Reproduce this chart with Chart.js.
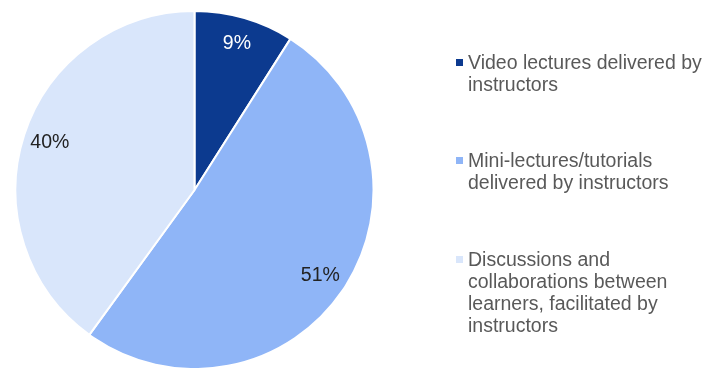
<!DOCTYPE html>
<html>
<head>
<meta charset="utf-8">
<script src="https://cdn.jsdelivr.net/npm/chart.js@4/dist/chart.umd.min.js"></script>
<style>
  html, body { margin: 0; padding: 0; background: #fff; }
  #wrap { width: 702px; height: 368px; position: relative; }
</style>
</head>
<body>
<div id="wrap"><canvas id="grafico"></canvas></div>
<script>
// categorias (já quebradas em linhas para a legenda)
const categorias = [
  ['Video lectures delivered by', 'instructors'],
  ['Mini-lectures/tutorials', 'delivered by instructors'],
  ['Discussions and', 'collaborations between', 'learners, facilitated by', 'instructors']
];
const percentuais = [9, 51, 40];
const cores = ['#0c3a8f', '#8fb5f7', '#d9e6fb'];
const coresRotulo = ['#ffffff', '#222222', '#222222'];

const fonte = '19.5px "Liberation Sans", Arial, sans-serif';

// rótulos de porcentagem dentro das fatias
const rotulosFatias = {
  id: 'rotulosFatias',
  afterDatasetsDraw(chart) {
    const ctx = chart.ctx;
    const meta = chart.getDatasetMeta(0);
    ctx.save();
    ctx.font = fonte;
    ctx.textAlign = 'center';
    ctx.textBaseline = 'middle';
    meta.data.forEach((arco, i) => {
      const { x, y, startAngle, endAngle, outerRadius } =
        arco.getProps(['x', 'y', 'startAngle', 'endAngle', 'outerRadius'], true);
      const meio = (startAngle + endAngle) / 2;
      const r = outerRadius * 0.85;
      ctx.fillStyle = coresRotulo[i];
      ctx.fillText(percentuais[i] + '%', x + Math.cos(meio) * r, y + Math.sin(meio) * r);
    });
    ctx.restore();
  }
};

// legenda à direita, com várias linhas por item
const legendaLateral = {
  id: 'legendaLateral',
  afterDraw(chart) {
    const ctx = chart.ctx;
    const x0 = 456;
    const topos = [69, 167, 266]; // linha de base da primeira linha de cada item
    const alturaLinha = 22;
    ctx.save();
    ctx.font = fonte;
    ctx.textAlign = 'left';
    ctx.textBaseline = 'alphabetic';
    categorias.forEach((linhas, i) => {
      const base = topos[i];
      ctx.fillStyle = cores[i];
      ctx.fillRect(x0, base - 10, 7, 7);
      ctx.fillStyle = '#595959';
      linhas.forEach((txt, j) => {
        ctx.fillText(txt, x0 + 12, base + j * alturaLinha);
      });
    });
    ctx.restore();
  }
};

const ctx = document.getElementById('grafico').getContext('2d');
new Chart(ctx, {
  type: 'pie',
  data: {
    labels: categorias.map(l => l.join(' ')),
    datasets: [{
      data: percentuais,
      backgroundColor: cores,
      borderColor: '#ffffff',
      borderWidth: 2
    }]
  },
  options: {
    responsive: true,
    maintainAspectRatio: false,
    animation: false,
    radius: 179,
    layout: { padding: { left: 16, right: 329, top: 12, bottom: 0 } },
    plugins: {
      legend: { display: false },
      tooltip: { enabled: false }
    }
  },
  plugins: [rotulosFatias, legendaLateral]
});
</script>
</body>
</html>
